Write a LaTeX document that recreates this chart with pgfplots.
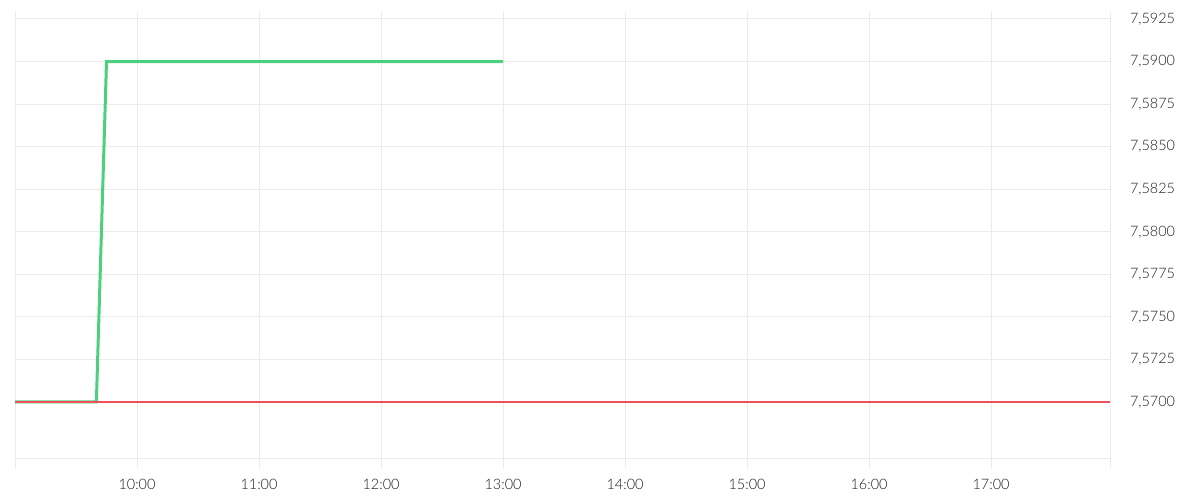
\documentclass[border=0pt]{standalone}
\usepackage{fontspec}
\setmainfont{Lato Light}
\usepackage{pgfplots}
\pgfplotsset{compat=1.18}
\definecolor{gridc}{HTML}{EBEBEB}
\definecolor{greenline}{HTML}{4CD07D}
\definecolor{redline}{HTML}{F0505A}
\definecolor{txt}{HTML}{1A1A1A}
\begin{document}
\begin{tikzpicture}
\useasboundingbox (0,0) rectangle (600pt,250pt);
\begin{axis}[
  at={(7.5pt,21pt)}, anchor=south west,
  scale only axis, width=547.5pt, height=223pt,
  xmin=9, xmax=17.975, ymin=7.56671, ymax=7.59291,
  axis x line*=bottom, axis y line*=right,
  axis line style={gridc, line width=0.5pt, -},
  xtick={9,10,11,12,13,14,15,16,17,17.975},
  xticklabels={,10:00,11:00,12:00,13:00,14:00,15:00,16:00,17:00,},
  ytick={7.57,7.5725,7.575,7.5775,7.58,7.5825,7.585,7.5875,7.59,7.5925},
  xmajorgrids, ymajorgrids,
  grid style={gridc, line width=0.5pt},
  tick align=outside, major tick length=5pt,
  xtick style={gridc, line width=0.5pt},
  ytick style={draw=none},
  yticklabel pos=right,
  yticklabel style={anchor=west, xshift=1.5pt, /pgf/number format/.cd, fixed, fixed zerofill, precision=4, use comma},
  /pgf/number format/assume math mode=true,
  scaled y ticks=false,
  tick label style={font=\fontsize{7.2}{8.5}\selectfont, text=txt},
  xticklabel style={yshift=-2pt},
]
\addplot[draw=greenline, line width=1.5pt] coordinates {(9,7.57) (9.667,7.57) (9.75,7.59) (13,7.59)};
\addplot[draw=redline, line width=0.6pt] coordinates {(9,7.57) (17.975,7.57)};
\end{axis}
\end{tikzpicture}
\end{document}
